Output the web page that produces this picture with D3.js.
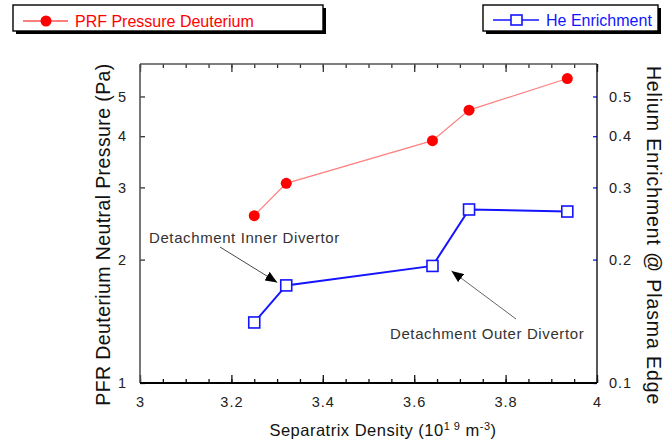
<!DOCTYPE html>
<html>
<head>
<meta charset="utf-8">
<script src="https://cdn.jsdelivr.net/npm/d3@7"></script>
<style>
  html, body { margin: 0; padding: 0; background: #fff; }
  svg { display: block; font-family: "Liberation Sans", Arial, Helvetica, sans-serif; }
</style>
</head>
<body>
<svg id="chart" width="667" height="443"></svg>
<script>
// Separatrix density (10^19 m^-3) for each discharge
const density = [3.25, 3.32, 3.64, 3.72, 3.935];
// PFR deuterium neutral pressure (Pa)
const pressure = [2.56, 3.07, 3.90, 4.63, 5.53];
// Helium enrichment at the plasma edge
const heEnrichment = [0.1405, 0.173, 0.193, 0.265, 0.262];

const xMajorTicks = [3, 3.2, 3.4, 3.6, 3.8, 4];
const xMinorTicks = d3.range(0, 21).map(i => 3 + i * 0.05);
const leftTicks = [1, 2, 3, 4, 5];
const rightTicks = [0.1, 0.2, 0.3, 0.4, 0.5];

const legendLabels = ["PRF Pressure Deuterium", "He Enrichment"];
const annotations = [
  { text: "Detachment Inner Divertor", index: 1 },
  { text: "Detachment Outer Divertor", index: 2 }
];

const svg = d3.select("#chart");
const plot = { left: 140, right: 597, top: 64, bottom: 383 };

const x = d3.scaleLinear().domain([3, 4]).range([plot.left, plot.right]);
const yL = d3.scaleLog().domain([1, 6]).range([plot.bottom, plot.top]);
const yR = d3.scaleLog().domain([0.1, 0.6]).range([plot.bottom, plot.top]);

const red = "#ff0000", blue = "#1414ff", textCol = "#222";

// arrowhead marker
svg.append("defs").append("marker")
  .attr("id", "arrow").attr("viewBox", "0 0 12 10")
  .attr("refX", 12).attr("refY", 5)
  .attr("markerWidth", 12).attr("markerHeight", 10)
  .attr("markerUnits", "userSpaceOnUse")
  .attr("orient", "auto")
  .append("path").attr("d", "M0,0 L12,5 L0,10 Z").attr("fill", "#000");

function styleAxis(g, tickColor) {
  g.select(".domain").remove();
  g.selectAll(".tick line").attr("stroke", tickColor).attr("stroke-width", 1.3);
  g.selectAll(".tick text")
    .attr("fill", textCol)
    .style("font-size", "14.5px")
    .style("letter-spacing", "1px");
}

// bottom axis: minor and major ticks pointing into the plot
svg.append("g").attr("transform", `translate(0,${plot.bottom})`)
  .call(d3.axisBottom(x).tickValues(xMinorTicks).tickSize(-4).tickFormat(""))
  .call(g => styleAxis(g, "#111"));
svg.append("g").attr("transform", `translate(0,${plot.bottom})`)
  .call(d3.axisBottom(x).tickValues(xMajorTicks).tickSize(-8).tickPadding(14)
    .tickFormat(d3.format("~g")))
  .call(g => styleAxis(g, "#111"));

// top axis: ticks only
svg.append("g").attr("transform", `translate(0,${plot.top})`)
  .call(d3.axisTop(x).tickValues(xMinorTicks).tickSize(-4).tickFormat(""))
  .call(g => styleAxis(g, "#333"));
svg.append("g").attr("transform", `translate(0,${plot.top})`)
  .call(d3.axisTop(x).tickValues(xMajorTicks).tickSize(-8).tickFormat(""))
  .call(g => styleAxis(g, "#333"));

// left axis (pressure)
svg.append("g").attr("transform", `translate(${plot.left},0)`)
  .call(d3.axisLeft(yL).tickValues(leftTicks).tickSize(-5).tickPadding(13)
    .tickFormat(d3.format("d")))
  .call(g => styleAxis(g, "#333"));

// right axis (helium enrichment), blue ticks
svg.append("g").attr("transform", `translate(${plot.right},0)`)
  .call(d3.axisRight(yR).tickValues(rightTicks).tickSize(-4).tickPadding(12)
    .tickFormat(d3.format(".1f")))
  .call(g => styleAxis(g, blue));

// frame
svg.append("line").attr("x1", plot.left).attr("x2", plot.left)
  .attr("y1", plot.top).attr("y2", plot.bottom).attr("stroke", "#555").attr("stroke-width", 1.6);
svg.append("line").attr("x1", plot.left).attr("x2", plot.right)
  .attr("y1", plot.top).attr("y2", plot.top).attr("stroke", "#555").attr("stroke-width", 1.6);
svg.append("line").attr("x1", plot.right).attr("x2", plot.right)
  .attr("y1", plot.top).attr("y2", plot.bottom).attr("stroke", "#111").attr("stroke-width", 1.4);
svg.append("line").attr("x1", plot.left).attr("x2", plot.right)
  .attr("y1", plot.bottom).attr("y2", plot.bottom).attr("stroke", "#000").attr("stroke-width", 1.8);

// pressure series
const pData = density.map((d, i) => [d, pressure[i]]);
svg.append("path").datum(pData)
  .attr("fill", "none").attr("stroke", "#ff8080").attr("stroke-width", 1.2)
  .attr("d", d3.line().x(d => x(d[0])).y(d => yL(d[1])));
svg.selectAll("circle.p").data(pData).join("circle").attr("class", "p")
  .attr("cx", d => x(d[0])).attr("cy", d => yL(d[1])).attr("r", 5.5).attr("fill", red);

// helium enrichment series
const hData = density.map((d, i) => [d, heEnrichment[i]]);
svg.append("path").datum(hData)
  .attr("fill", "none").attr("stroke", blue).attr("stroke-width", 2)
  .attr("d", d3.line().x(d => x(d[0])).y(d => yR(d[1])));
svg.selectAll("rect.h").data(hData).join("rect").attr("class", "h")
  .attr("x", d => x(d[0]) - 5.5).attr("y", d => yR(d[1]) - 5.5)
  .attr("width", 11).attr("height", 11)
  .attr("fill", "#fff").attr("stroke", blue).attr("stroke-width", 1.6);

// annotations with arrows
const inner = annotations[0], outer = annotations[1];
const pIn = [x(density[inner.index]), yR(heEnrichment[inner.index])];
const pOut = [x(density[outer.index]), yR(heEnrichment[outer.index])];
svg.append("text").attr("x", 149).attr("y", 243).text(inner.text)
  .attr("fill", "#333").style("font-size", "15px").style("letter-spacing", "0.6px");
svg.append("line").attr("x1", 220).attr("y1", 247)
  .attr("x2", pIn[0] - 9).attr("y2", pIn[1] - 3)
  .attr("stroke", "#333").attr("stroke-width", 0.9).attr("marker-end", "url(#arrow)");
svg.append("text").attr("x", 390).attr("y", 339).text(outer.text)
  .attr("fill", "#333").style("font-size", "15px").style("letter-spacing", "0.6px");
svg.append("line").attr("x1", 516).attr("y1", 319)
  .attr("x2", pOut[0] + 19).attr("y2", pOut[1] + 5)
  .attr("stroke", "#555").attr("stroke-width", 0.9).attr("marker-end", "url(#arrow)");

// axis titles
svg.append("text")
  .attr("transform", `translate(110,${(plot.top + plot.bottom) / 2 + 11}) rotate(-90)`)
  .attr("text-anchor", "middle").attr("fill", "#111")
  .style("font-size", "19.5px").style("letter-spacing", "0.4px")
  .text("PFR Deuterium Neutral Pressure (Pa)");
svg.append("text")
  .attr("transform", `translate(647,${(plot.top + plot.bottom) / 2 + 12}) rotate(90)`)
  .attr("text-anchor", "middle").attr("fill", "#111")
  .style("font-size", "19.5px").style("letter-spacing", "0.9px")
  .text("Helium Enrichment @ Plasma Edge");

const xt = svg.append("text").attr("x", 383).attr("y", 436)
  .attr("text-anchor", "middle").attr("fill", "#111")
  .style("font-size", "16.5px").style("letter-spacing", "0.5px");
xt.append("tspan").text("Separatrix Density (10");
xt.append("tspan").attr("dy", -6).style("font-size", "11px").text("1 9");
xt.append("tspan").attr("dy", 6).text(" m");
xt.append("tspan").attr("dy", -6).style("font-size", "11px").text("-3");
xt.append("tspan").attr("dy", 6).text(")");

// legends with drop shadows
function legendBox(x0, y0, w, h) {
  svg.append("rect").attr("x", x0 + 3).attr("y", y0 + 3).attr("width", w).attr("height", h).attr("fill", "#000");
  svg.append("rect").attr("x", x0).attr("y", y0).attr("width", w).attr("height", h)
    .attr("fill", "#fff").attr("stroke", "#000").attr("stroke-width", 1.4);
}
legendBox(13, 5, 310, 26);
svg.append("line").attr("x1", 23).attr("x2", 68).attr("y1", 21).attr("y2", 21)
  .attr("stroke", red).attr("stroke-width", 1.2);
svg.append("circle").attr("cx", 46).attr("cy", 21).attr("r", 5.5).attr("fill", red);
svg.append("text").attr("x", 75).attr("y", 26.5).attr("fill", red)
  .style("font-size", "16px").text(legendLabels[0]);

legendBox(483, 5, 175, 26);
svg.append("line").attr("x1", 493).attr("x2", 539).attr("y1", 20).attr("y2", 20)
  .attr("stroke", blue).attr("stroke-width", 1.4);
svg.append("rect").attr("x", 511).attr("y", 15).attr("width", 11).attr("height", 10)
  .attr("fill", "#fff").attr("stroke", blue).attr("stroke-width", 1.6);
svg.append("text").attr("x", 546).attr("y", 26).attr("fill", blue)
  .style("font-size", "16px").text(legendLabels[1]);
</script>
</body>
</html>
